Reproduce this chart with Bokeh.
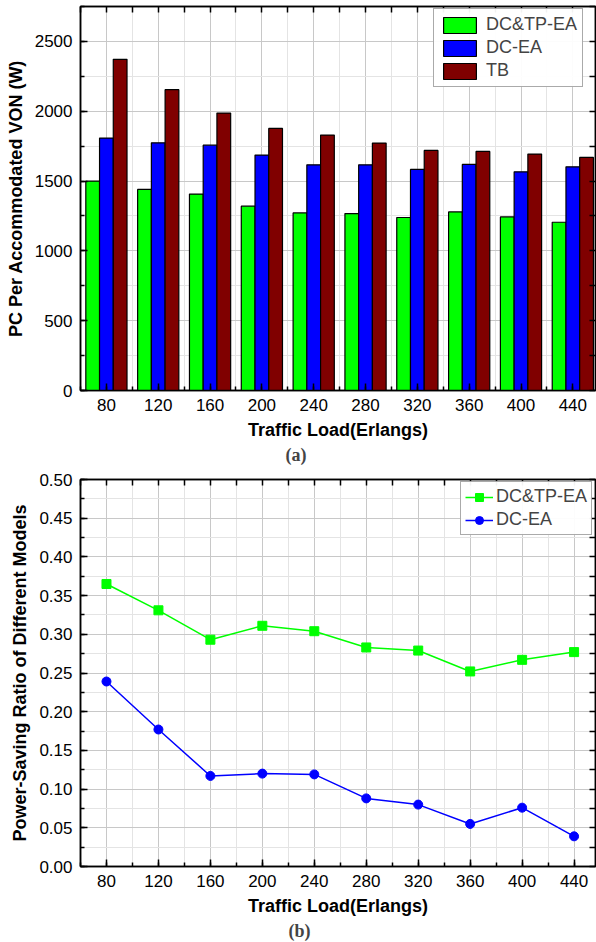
import numpy as np
from bokeh.plotting import figure
from bokeh.layouts import column
from bokeh.models import (LinearAxis, SingleIntervalTicker, Range1d, Title,
                          NumeralTickFormatter, FixedTicker)
from bokeh.transform import dodge
from bokeh.embed import file_html
from bokeh.resources import INLINE

# ---------------- data ----------------
loads = [80, 120, 160, 200, 240, 280, 320, 360, 400, 440]
pc_dctp = [1500, 1440, 1407, 1320, 1272, 1267, 1239, 1279, 1243, 1205]
pc_dc = [1808, 1774, 1757, 1686, 1616, 1616, 1583, 1619, 1566, 1602]
pc_tb = [2372, 2154, 1987, 1877, 1829, 1772, 1719, 1712, 1693, 1669]
ratio_dctp = [0.365, 0.331, 0.293, 0.311, 0.304, 0.283, 0.279, 0.252, 0.267, 0.277]
ratio_dc = [0.239, 0.177, 0.117, 0.120, 0.119, 0.088, 0.080, 0.055, 0.076, 0.039]
series_names_a = ["DC&TP-EA", "DC-EA", "TB"]
series_names_b = ["DC&TP-EA", "DC-EA"]
x_label = "Traffic Load(Erlangs)"
y_label_a = "PC Per Accommodated VON (W)"
y_label_b = "Power-Saving Ratio of Different Models"

FONT = "Liberation Sans"
GREEN = "#00ff00"
BLUE = "#0000ff"
RED = "#800000"


def style(p, xtick, ytick, xlab, ylab, xmirror, ymirror, yfmt=None):
    p.outline_line_color = "black"
    p.outline_line_width = 1.5
    for g in (p.xgrid[0], p.ygrid[0]):
        g.grid_line_color = "#c8c8c8"
        g.grid_line_width = 1
        g.minor_grid_line_color = "#e4e4e4"
        g.minor_grid_line_width = 1
    p.xgrid[0].ticker = xtick
    p.ygrid[0].ticker = ytick
    xa = p.below[0]
    ya = p.left[0]
    for ax in (xa, ya):
        ax.axis_line_color = "black"
        ax.axis_line_width = 1.5
        ax.major_tick_in = 7
        ax.major_tick_out = 0
        ax.minor_tick_in = 4
        ax.minor_tick_out = 0
        ax.major_tick_line_width = 1.5
        ax.minor_tick_line_width = 1.5
        ax.major_label_text_font = FONT
        ax.major_label_text_font_size = "17px"
        ax.major_label_text_color = "black"
        ax.axis_label_text_font = FONT
        ax.axis_label_text_font_size = "18px"
        ax.axis_label_text_font_style = "bold"
        ax.axis_label_text_color = "black"
        ax.major_label_standoff = 8
        ax.axis_label_standoff = 6
    xa.ticker = xtick
    ya.ticker = ytick
    xa.axis_label = xlab
    ya.axis_label = ylab
    if yfmt is not None:
        ya.formatter = yfmt
    # mirror axes (top, right): inward ticks only, no labels
    for loc, ticks in (("above", xmirror), ("right", ymirror)):
        ax = LinearAxis(ticker=FixedTicker(ticks=[], minor_ticks=list(ticks)),
                        minor_tick_in=6, minor_tick_out=0,
                        minor_tick_line_width=1.5, major_tick_in=0,
                        major_tick_out=0, axis_line_width=1.5)
        p.add_layout(ax, loc)


def style_legend(lg, glyph_w, standoff, pad):
    lg.padding = pad
    lg.spacing = 2
    lg.margin = 0
    lg.glyph_width = glyph_w
    lg.glyph_height = 20
    lg.label_height = 20
    lg.label_text_font = FONT
    lg.label_text_font_size = "18px"
    lg.label_standoff = standoff
    lg.border_line_color = "#555555"
    lg.border_line_width = 1.2


# ---------------- chart (a) ----------------
p1 = figure(width=596, height=465, output_backend="svg", toolbar_location=None,
            x_range=Range1d(60, 457.5), y_range=Range1d(0, 2750),
            min_border_left=80, min_border_right=1, min_border_top=6,
            min_border_bottom=75)
src = dict(x=loads, a=pc_dctp, b=pc_dc, c=pc_tb)
bw = 10.6
p1.vbar(x=dodge("x", -bw, range=p1.x_range), top="a", width=bw, source=src,
        fill_color=GREEN, line_color="black", line_width=1.2,
        legend_label=series_names_a[0])
p1.vbar(x=dodge("x", 0, range=p1.x_range), top="b", width=bw, source=src,
        fill_color=BLUE, line_color="black", line_width=1.2,
        legend_label=series_names_a[1])
p1.vbar(x=dodge("x", bw, range=p1.x_range), top="c", width=bw, source=src,
        fill_color=RED, line_color="black", line_width=1.2,
        legend_label=series_names_a[2])
style(p1, SingleIntervalTicker(interval=40, num_minor_ticks=2),
      SingleIntervalTicker(interval=500, num_minor_ticks=2),
      x_label, y_label_a,
      np.arange(60, 458, 20), np.arange(0, 2751, 250))
style_legend(p1.legend[0], 41, 6, 5)
p1.legend[0].location = (353, 303)
p1.add_layout(Title(text="(a)", align="left", offset=205,
                    text_font="Liberation Serif", text_font_style="bold",
                    text_font_size="18px", standoff=0), "below")

# ---------------- chart (b) ----------------
p2 = figure(width=596, height=477, output_backend="svg", toolbar_location=None,
            x_range=Range1d(60, 456.5), y_range=Range1d(0, 0.5),
            min_border_left=78, min_border_right=1, min_border_top=14,
            min_border_bottom=76)
p2.line(loads, ratio_dctp, line_color=GREEN, line_width=1.5,
        legend_label=series_names_b[0])
p2.scatter(loads, ratio_dctp, marker="square", size=9, fill_color=GREEN,
           line_color=GREEN, legend_label=series_names_b[0])
p2.line(loads, ratio_dc, line_color=BLUE, line_width=1.5,
        legend_label=series_names_b[1])
p2.scatter(loads, ratio_dc, marker="circle", size=9, fill_color=BLUE,
           line_color=BLUE, legend_label=series_names_b[1])
style(p2, SingleIntervalTicker(interval=40, num_minor_ticks=2),
      SingleIntervalTicker(interval=0.05, num_minor_ticks=2),
      x_label, y_label_b,
      np.arange(60, 457, 20), np.round(np.arange(0, 0.5001, 0.025), 3),
      NumeralTickFormatter(format="0.00"))
style_legend(p2.legend[0], 28, 3, 4)
p2.legend[0].location = (380, 331)
p2.add_layout(Title(text="(b)", align="left", offset=208,
                    text_font="Liberation Serif", text_font_style="bold",
                    text_font_size="18px", standoff=0), "below")

layout = column(p1, p2, spacing=0)
open("out.html", "w").write(file_html(layout, INLINE))
